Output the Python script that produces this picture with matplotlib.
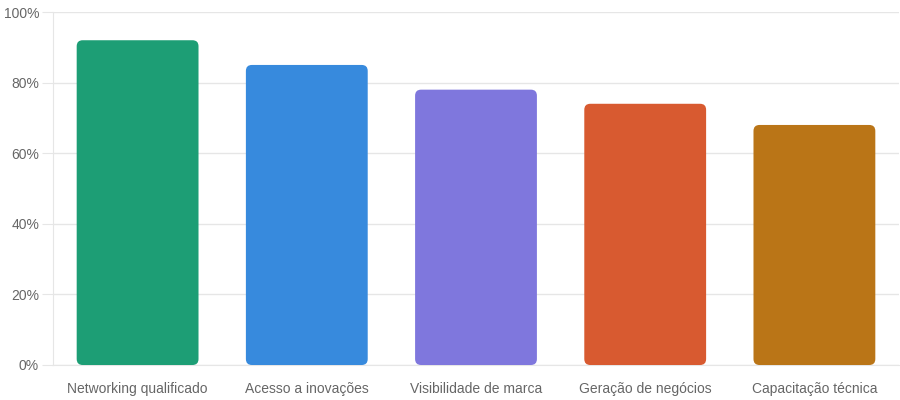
import matplotlib
matplotlib.use("Agg")
import matplotlib.pyplot as plt
from matplotlib.patches import FancyBboxPatch
from matplotlib.ticker import FuncFormatter, MultipleLocator

categories = ["Networking qualificado", "Acesso a inovações", "Visibilidade de marca",
              "Geração de negócios", "Capacitação técnica"]
values = [92, 85, 78, 74, 68]
colors = ["#1D9E75", "#378ADD", "#7F77DD", "#D85A30", "#BA7517"]

plt.rcParams['font.family'] = ['Liberation Sans', 'DejaVu Sans']

fig = plt.figure(figsize=(9, 4), dpi=100)
ax = fig.add_axes([53/900, 35/400, 846/900, 353/400])

x = list(range(len(categories)))
bars = ax.bar(x, values, width=0.72, color=colors)
ax.set_xlim(-0.5, len(categories) - 0.5)
ax.set_ylim(0, 100)

# convert bars into rounded rectangles
fig.canvas.draw()
px_per_x = ax.transData.transform((1, 0))[0] - ax.transData.transform((0, 0))[0]
px_per_y = ax.transData.transform((0, 1))[1] - ax.transData.transform((0, 0))[1]
r_px = 6
r_x = r_px / px_per_x
aspect = (r_px / px_per_y) / r_x
for b, c in zip(bars, colors):
    bx, by, bw, bh = b.get_x(), b.get_y(), b.get_width(), b.get_height()
    b.set_visible(False)
    p = FancyBboxPatch((bx, by), bw, bh,
                       boxstyle=f"round,pad=0,rounding_size={r_x}",
                       mutation_aspect=aspect, facecolor=c, edgecolor='none', zorder=3)
    ax.add_patch(p)

ax.yaxis.set_major_locator(MultipleLocator(20))
ax.yaxis.set_major_formatter(FuncFormatter(lambda v, _: f"{int(v)}%"))
ax.set_xticks(x)
ax.set_xticklabels(categories)

grid_c = "#e6e6e6"
ax.grid(axis='y', color=grid_c, linewidth=1, zorder=0)
ax.set_axisbelow(True)
for s in ['top', 'right']:
    ax.spines[s].set_visible(False)
ax.spines['left'].set_color(grid_c)
ax.spines['bottom'].set_color(grid_c)
ax.tick_params(axis='y', length=8, color=grid_c, labelcolor="#666666", labelsize=10, pad=2)
ax.tick_params(axis='x', length=0, labelcolor="#666666", labelsize=10, pad=12)

fig.savefig("out.png", dpi=100)
